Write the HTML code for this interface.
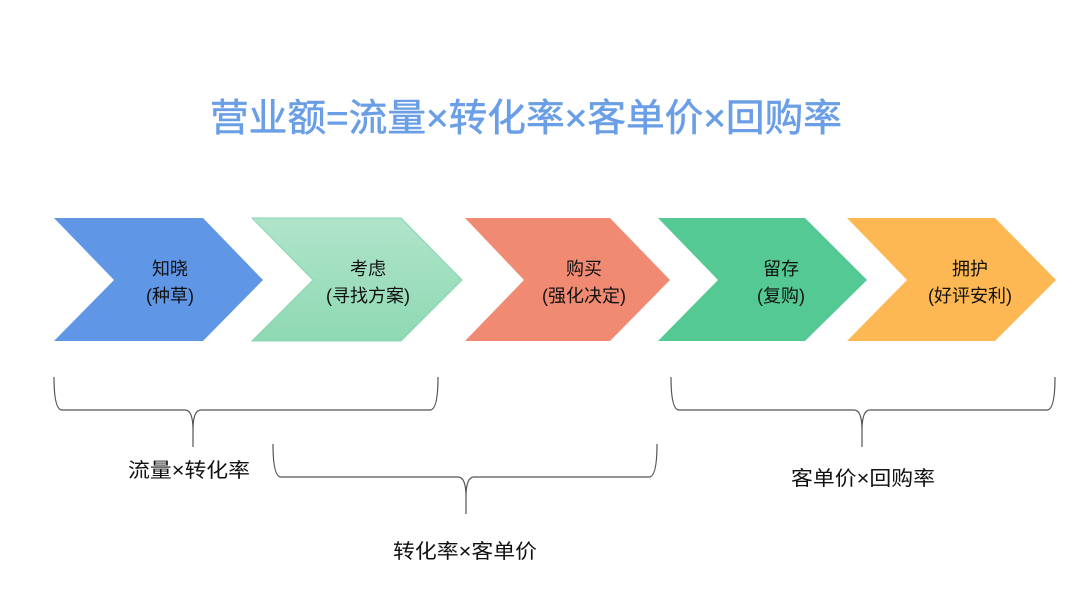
<!DOCTYPE html>
<html><head><meta charset="utf-8"><style>
html,body{margin:0;padding:0;background:#fff;}
svg{display:block;}
text{font-family:"Liberation Sans","Noto Sans CJK SC",sans-serif;}
</style></head><body>
<svg width="1080" height="591" viewBox="0 0 1080 591" xmlns="http://www.w3.org/2000/svg">
<defs>
<linearGradient id="g2" x1="0" y1="0" x2="0" y2="1">
<stop offset="0" stop-color="#b0e4cb"/><stop offset="1" stop-color="#8ed9b3"/>
</linearGradient>
</defs>
<text x="210" y="131" font-size="38" fill="#6a9ee6" stroke="#6a9ee6" stroke-width="0.6" textLength="632" lengthAdjust="spacingAndGlyphs">营业额=流量×转化率×客单价×回购率</text>

<polygon points="54,218 203,218 263,280 203,341 54,341 114,280" fill="#6096e6"/>
<polygon points="252,218 401,218 462,280 401,341 252,341 313,280" fill="url(#g2)" stroke="#86d6ae" stroke-width="1"/>
<polygon points="465,218 610,218 670,280 610,341 465,341 524,280" fill="#f08a72"/>
<polygon points="658,218 805,218 867,280 805,341 658,341 718,280" fill="#54c993"/>
<polygon points="847,218 995,218 1056,280 995,341 847,341 907,280" fill="#fdb853"/>

<g font-size="18" fill="#111" text-anchor="middle">
<text x="170" y="275">知晓</text><text x="170" y="302">(种草)</text>
<text x="368" y="275">考虑</text><text x="368" y="302">(寻找方案)</text>
<text x="584" y="275">购买</text><text x="584" y="302">(强化决定)</text>
<text x="781" y="275">留存</text><text x="781" y="302">(复购)</text>
<text x="970" y="275">拥护</text><text x="970" y="302">(好评安利)</text>
</g>

<g fill="none" stroke="#555" stroke-width="1.2">
<path d="M54,377 Q54,410 62,410 L185,410 Q193,410 193,430 L193,447 M193,430 Q193,410 201,410 L430,410 Q438,410 438,377"/>
<path d="M273,444 Q273,477 281,477 L458,477 Q466,477 466,497 L466,514 M466,497 Q466,477 474,477 L649,477 Q657,477 657,444"/>
<path d="M671,377 Q671,410 679,410 L854,410 Q862,410 862,430 L862,447 M862,430 Q862,410 870,410 L1047,410 Q1055,410 1055,377"/>
</g>

<g font-size="20" fill="#111">
<text x="128" y="477" textLength="122" lengthAdjust="spacingAndGlyphs">流量×转化率</text>
<text x="393" y="558" textLength="144" lengthAdjust="spacingAndGlyphs">转化率×客单价</text>
<text x="791" y="485" textLength="144" lengthAdjust="spacingAndGlyphs">客单价×回购率</text>
</g>
</svg>
</body></html>
